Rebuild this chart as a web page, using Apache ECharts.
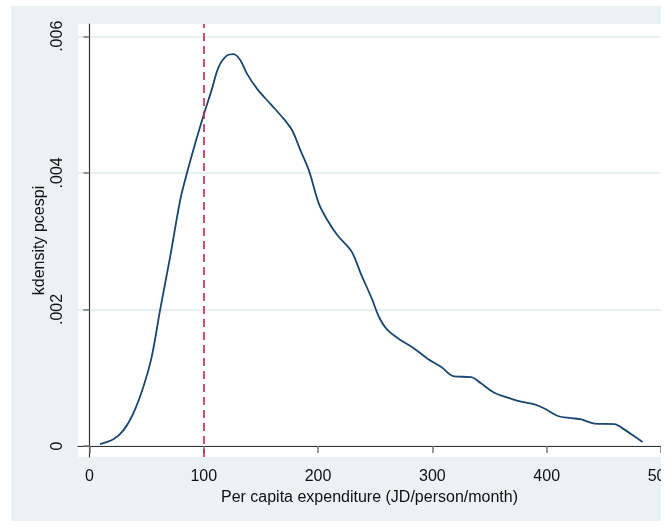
<!DOCTYPE html>
<html>
<head>
<meta charset="utf-8">
<script src="https://cdn.jsdelivr.net/npm/echarts@6/dist/echarts.min.js"></script>
<style>
  html, body { margin: 0; padding: 0; background: #fff; overflow: hidden; }
  #chart { width: 700px; height: 527px; }
</style>
</head>
<body>
<div id="chart"></div>
<script>
// kdensity estimate
var pcespi = [9.2, 20.9, 29.7, 38.4, 47.2, 54.5, 61.8, 70.6, 79.4, 85.2, 92.5, 99.8,
  107.2, 113, 120.4, 126.1, 132, 137.9, 146.7, 158.3, 170, 177.4, 184.6, 191.9,
  200.7, 208.1, 216.8, 228.5, 232.9, 237.3, 247.5, 253.3, 260.7, 272.4, 284, 295.8,
  307.5, 319.1, 333.8, 342.5, 354.2, 366, 377.6, 389.3, 398, 409.8, 421.5, 430.3,
  441.9, 459.5, 465.4, 477, 483.8];
var density = [0.00003, 0.0001, 0.00023, 0.00048, 0.00087, 0.00131, 0.00199, 0.00277, 0.0036, 0.00399, 0.00443, 0.00484,
  0.00523, 0.00555, 0.00572, 0.00574, 0.00565, 0.00545, 0.00523, 0.00501, 0.00479, 0.00462, 0.00433, 0.00404,
  0.00355, 0.00331, 0.00309, 0.00287, 0.00272, 0.00253, 0.00214, 0.00189, 0.0017, 0.00155, 0.00143, 0.00128,
  0.00116, 0.00102, 0.00101, 0.00092, 0.00078, 0.00071, 0.00065, 0.00061, 0.00055, 0.00044, 0.00041, 0.00039,
  0.00033, 0.00032, 0.00027, 0.00014, 0.00006];
var xTicks = [0, 100, 200, 300, 400, 500];
var yTicks = [0, 0.002, 0.004, 0.006];
var cutoff = 100;

var font = 'Liberation Sans, Arial, sans-serif';
var chart = echarts.init(document.getElementById('chart'));

// canvas is wider than the window; the picture gets cut at x=661 like the original
chart.setOption({
  backgroundColor: '#fff',
  animation: false,
  graphic: [
    { type: 'rect', z: -10, silent: true, shape: { x: 11, y: 6, width: 650, height: 515 }, style: { fill: '#eaf2f3' } },
    { type: 'rect', z: 100, silent: true, shape: { x: 661, y: 0, width: 40, height: 527 }, style: { fill: '#fff' } }
  ],
  grid: { left: 78, right: 39, top: 24, bottom: 70, show: true, backgroundColor: '#fff', borderWidth: 0 },
  xAxis: {
    type: 'value', min: -10, max: 500,
    name: 'Per capita expenditure (JD/person/month)',
    nameLocation: 'middle', nameGap: 32,
    nameTextStyle: { fontFamily: font, fontSize: 16, color: '#111' },
    axisLine: { lineStyle: { color: '#333', width: 1.2 } },
    axisTick: { customValues: xTicks, length: 7, lineStyle: { color: '#777', width: 1.5 } },
    axisLabel: { customValues: xTicks, fontFamily: font, fontSize: 16, color: '#111', margin: 12 },
    splitLine: { show: false }
  },
  yAxis: {
    type: 'value', min: -0.00016, max: 0.00618,
    name: 'kdensity pcespi',
    nameLocation: 'middle', nameGap: 30, nameMoveOverlap: false,
    nameTextStyle: { fontFamily: font, fontSize: 16, color: '#111' },
    axisLine: { show: true, lineStyle: { color: '#333', width: 1.2 } },
    axisTick: { show: true, customValues: yTicks, length: 6, lineStyle: { color: '#777', width: 1.5 } },
    axisLabel: {
      customValues: yTicks, rotate: 90, fontFamily: font, fontSize: 16, color: '#111', margin: 12,
      formatter: function (v) { return v === 0 ? '0' : String(v).replace(/^0/, ''); }
    },
    splitLine: { show: true, lineStyle: { color: '#e6eff1', width: 2 } }
  },
  series: [{
    type: 'line',
    data: pcespi.map(function (x, i) { return [x, density[i]]; }),
    smooth: 0.35,
    showSymbol: false,
    lineStyle: { color: '#1a476f', width: 1.8 },
    markLine: {
      silent: true, symbol: 'none', label: { show: false },
      lineStyle: { color: '#c8234a', type: [8, 5], width: 1.6 },
      data: [{ xAxis: cutoff }]
    }
  }]
});
</script>
</body>
</html>
